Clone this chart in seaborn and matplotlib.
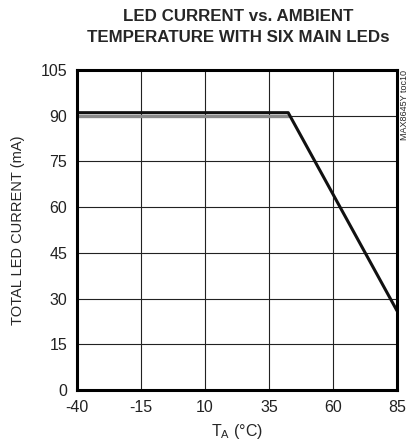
import pandas as pd
import matplotlib.pyplot as plt
import seaborn as sns

# values
temp_c = [-40, 42.5, 85]
led_current_ma = [91, 91, 26]
gray_temp_c = [-40, 42.5]
gray_current_ma = [90, 90]
x_ticks = [-40, -15, 10, 35, 60, 85]
y_ticks = [0, 15, 30, 45, 60, 75, 90, 105]

sns.set_style('white')
plt.rcParams['font.family'] = ['Liberation Sans', 'DejaVu Sans']
plt.rcParams['axes.unicode_minus'] = False

df = pd.DataFrame({'temp': temp_c, 'current': led_current_ma})
df_gray = pd.DataFrame({'temp': gray_temp_c, 'current': gray_current_ma})

fig = plt.figure(figsize=(4.11, 4.48), dpi=100)
ax = fig.add_axes([77 / 411, 1 - 390 / 448, 320 / 411, 320 / 448])

ax.set_xlim(-40, 85)
ax.set_ylim(0, 105)
ax.set_xticks(x_ticks)
ax.set_yticks(y_ticks)
ax.grid(True, color='#222222', linewidth=0.8)
ax.set_axisbelow(True)

sns.lineplot(data=df_gray, x='temp', y='current', color='#8a8a8a', linewidth=2.4, ax=ax)
sns.lineplot(data=df, x='temp', y='current', color='#111111', linewidth=2.2, ax=ax)

for s in ax.spines.values():
    s.set_visible(True)
    s.set_linewidth(2.2)
    s.set_color('black')

ax.tick_params(length=0, labelsize=11.5, pad=7, colors='#222222')
ax.set_xlabel('T$_\\mathregular{A}$ (°C)', fontsize=11.5, labelpad=5)
ax.set_ylabel('TOTAL LED CURRENT (mA)', fontsize=10.5, labelpad=11)

fig.text(0.58, 0.98, 'LED CURRENT vs. AMBIENT\nTEMPERATURE WITH SIX MAIN LEDs',
         ha='center', va='top', fontsize=12.2, fontweight='bold', linespacing=1.5)
fig.text(404 / 411, 1 - 70 / 448, 'MAX8645Y toc10', rotation=90, ha='center', va='top',
         fontsize=6.5)

fig.savefig('out.png', dpi=100)
